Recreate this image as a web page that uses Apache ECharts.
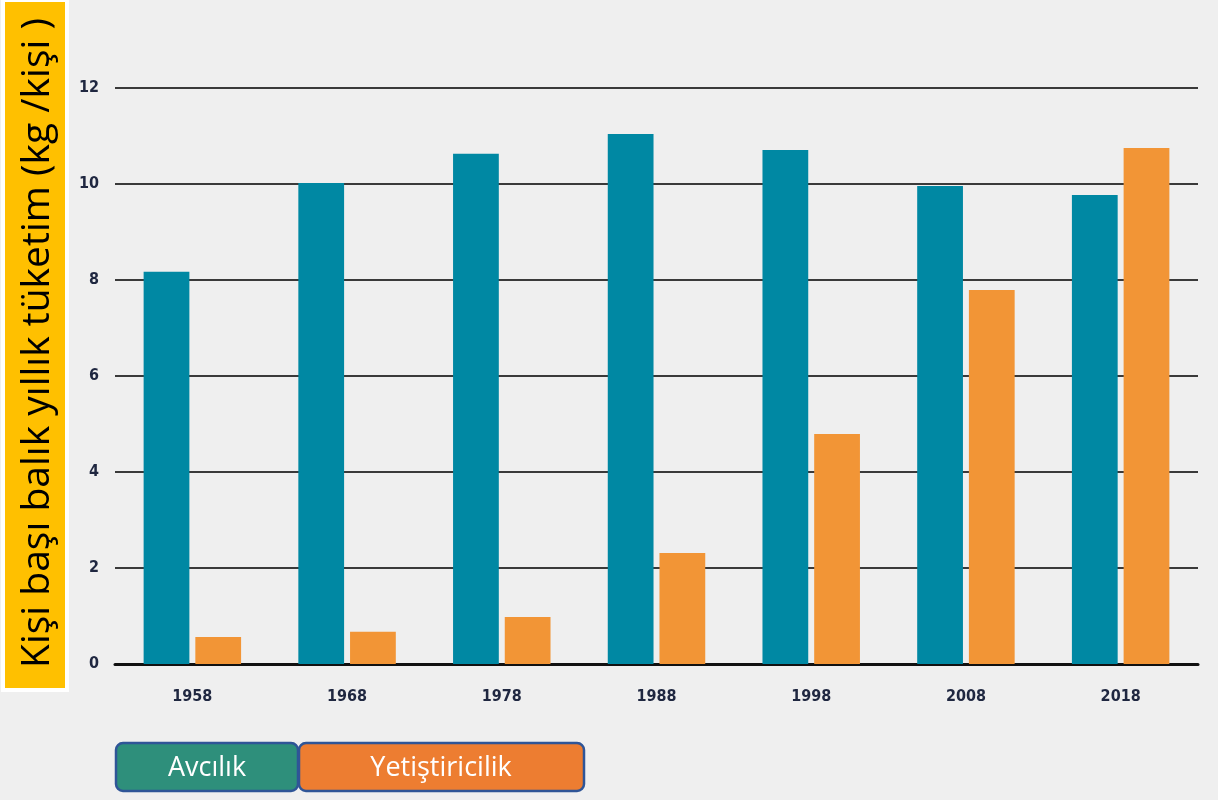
<!DOCTYPE html>
<html><head><meta charset="utf-8">
<script src="https://cdn.jsdelivr.net/npm/echarts@6/dist/echarts.min.js"></script>
<style>html,body{margin:0;padding:0;background:#efefef;}#c{width:1218px;height:800px;}</style>
</head><body><div id="c"></div>
<script>
const years = ['1958','1968','1978','1988','1998','2008','2018'];
const avcilik = [8.17, 10.02, 10.63, 11.04, 10.71, 9.96, 9.77];
const yetistiricilik = [0.56, 0.67, 0.98, 2.31, 4.79, 7.79, 10.75];
const seriesNames = ['Avcılık', 'Yetiştiricilik'];
const yTitle = 'Kişi başı balık yıllık tüketim (kg /kişi )';

const chart = echarts.init(document.getElementById('c'), null, {renderer:'canvas'});
const tickFont = {fontFamily:'"Liberation Sans Narrow", "DejaVu Sans Condensed", sans-serif', fontWeight:'bold', fontSize:16, color:'#1f2740'};
chart.setOption({
  backgroundColor:'#efefef',
  animation:false,
  grid:{left:115, right:20, top:88, bottom:136},
  xAxis:{type:'category', data:years,
    axisLine:{show:true, lineStyle:{color:'#111', width:3}},
    axisTick:{show:false},
    axisLabel:Object.assign({margin:25}, tickFont)},
  yAxis:{type:'value', min:0, max:12, interval:2,
    axisLine:{show:false}, axisTick:{show:false},
    axisLabel:Object.assign({margin:16}, tickFont),
    splitLine:{lineStyle:{color:'#3a3a3a', width:2}}},
  series:[
    {name:seriesNames[0], type:'bar', data:avcilik, barGap:'13%', barCategoryGap:'37%',
     itemStyle:{color:'#0088a3'}},
    {name:seriesNames[1], type:'bar', data:yetistiricilik,
     itemStyle:{color:'#f29536'}}
  ],
  graphic:[
    {type:'rect', shape:{x:3, y:0, width:64, height:690}, style:{fill:'#ffc000', stroke:'#ffffff', lineWidth:4}},
    {type:'text', x:38, y:343, rotation:Math.PI/2, style:{text:yTitle, fill:'#000', font:'39px "Open Sans", sans-serif', align:'center', verticalAlign:'middle'}},
    {type:'rect', shape:{x:116, y:743, width:182, height:48, r:7}, style:{fill:'#2e8f7b', stroke:'#2f5597', lineWidth:2.5}},
    {type:'text', x:207, y:768, style:{text:seriesNames[0], fill:'#ffffff', font:'27px "Open Sans", sans-serif', align:'center', verticalAlign:'middle'}},
    {type:'rect', shape:{x:299, y:743, width:285, height:48, r:7}, style:{fill:'#ed7d31', stroke:'#2f5597', lineWidth:2.5}},
    {type:'text', x:441, y:768, style:{text:seriesNames[1], fill:'#ffffff', font:'27px "Open Sans", sans-serif', align:'center', verticalAlign:'middle'}}
  ]
});
</script></body></html>
